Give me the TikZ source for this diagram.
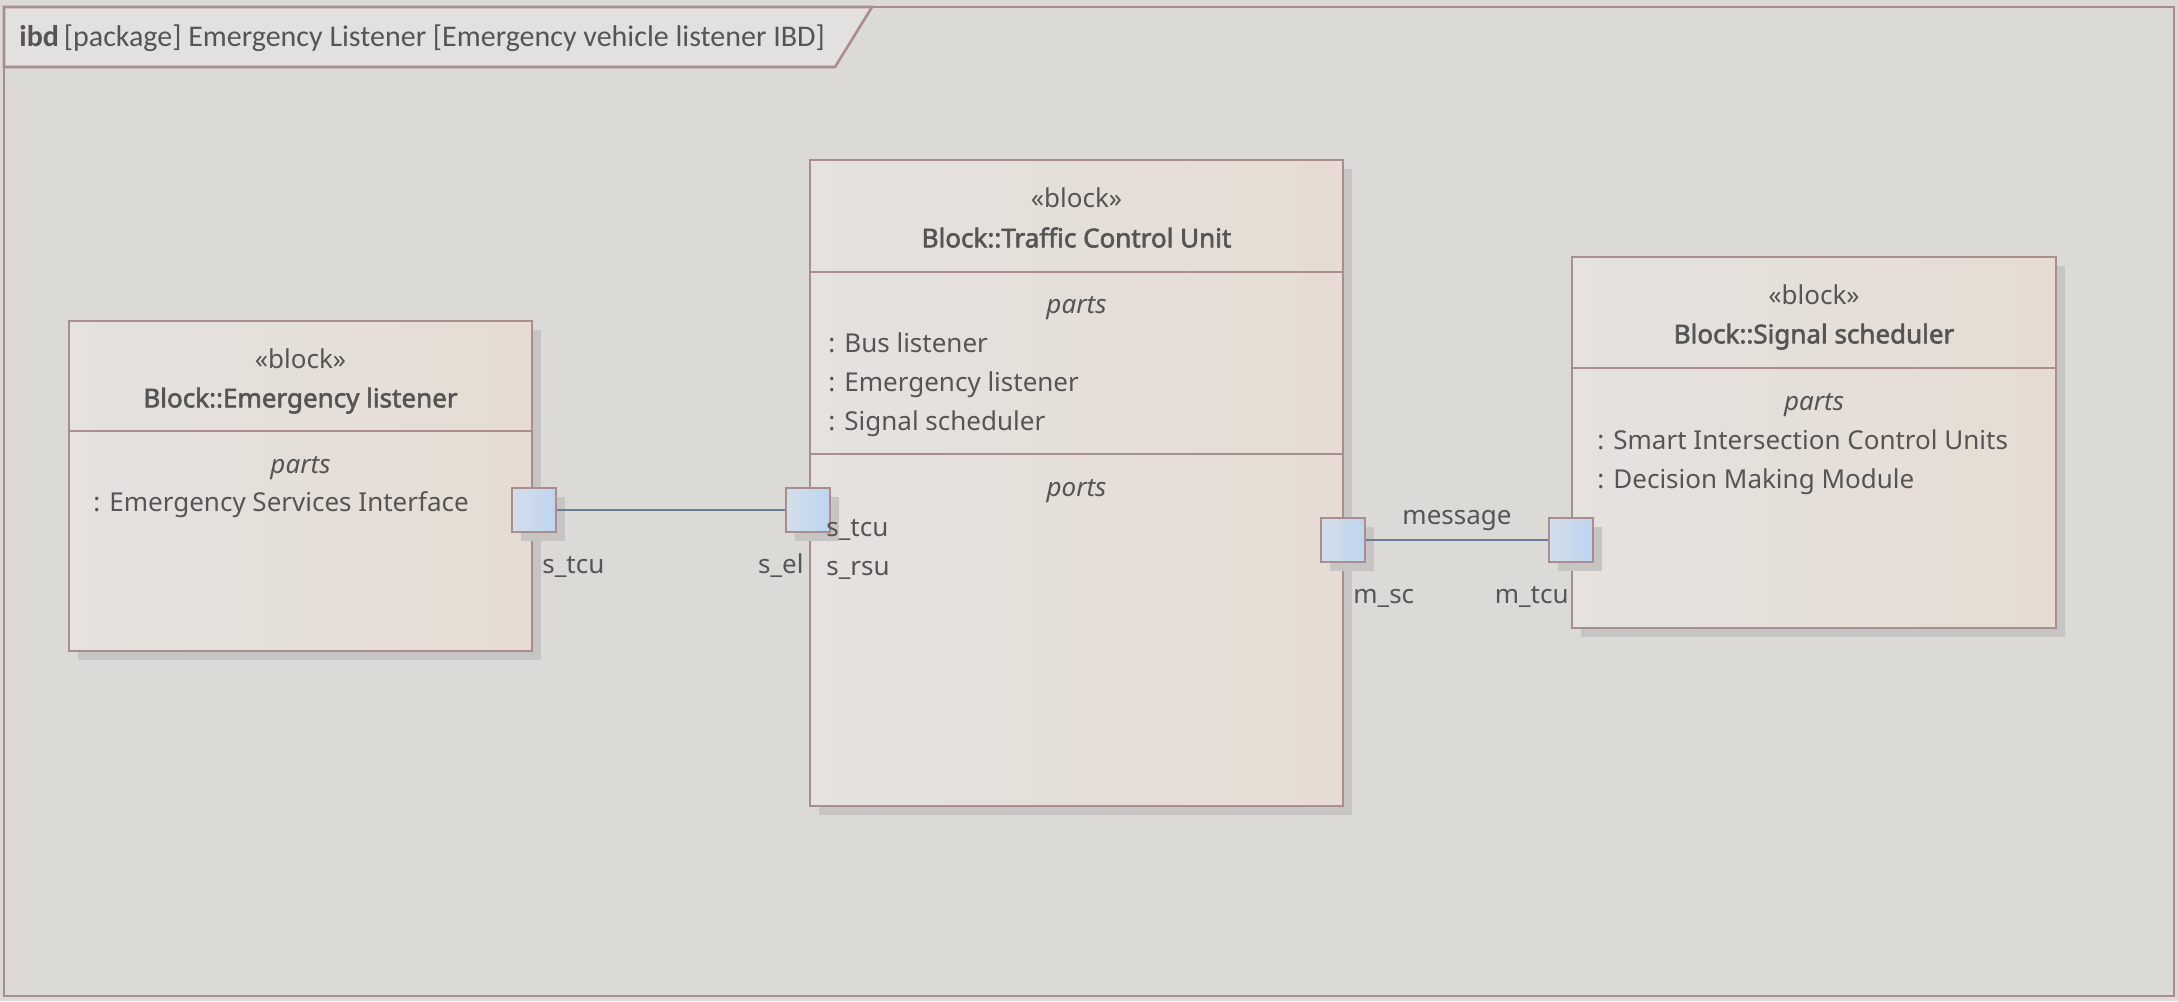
\documentclass[tikz,border=0pt]{standalone}
\usepackage{fontspec}
\setmainfont{Noto Sans}[AutoFakeBold=2.2]
\newfontfamily\tabfont{Carlito}
\usetikzlibrary{positioning, fit, shadows}

\definecolor{sheet}{HTML}{DCDAD6}
\definecolor{tabfill}{HTML}{E3E1DF}
\definecolor{frameline}{HTML}{A98D8F}
\definecolor{blockleft}{HTML}{E5E2DF}
\definecolor{blockright}{HTML}{E6DCD3}
\definecolor{portleft}{HTML}{D5DEE9}
\definecolor{portright}{HTML}{BDD4F0}
\definecolor{wire}{HTML}{6C7A99}
\definecolor{ink}{HTML}{555555}
\definecolor{dropgray}{HTML}{C7C5C3}

\tikzset{
	frame/.style={draw=frameline, line width=1.3pt},
	block/.style={draw=frameline, line width=1pt, inner sep=0pt, left color=blockleft, right color=blockright,
		drop shadow={shadow xshift=4.5pt, shadow yshift=-4.5pt, fill=dropgray, opacity=1}},
	divider/.style={draw=frameline, line width=1pt},
	port/.style={draw=frameline, line width=1pt, minimum size=22pt, inner sep=0pt, left color=portleft, right color=portright,
		drop shadow={shadow xshift=4.5pt, shadow yshift=-4.5pt, fill=dropgray, opacity=1}},
	connector/.style={draw=wire, line width=0.9pt},
	stereo/.style={anchor=mid},
	blockname/.style={anchor=mid, font=\bfseries\fontsize{13}{15}\selectfont},
	compartment/.style={anchor=mid, font=\itshape\fontsize{13}{15}\selectfont},
	entry/.style={anchor=mid west, inner sep=0pt},
	portname/.style={anchor=mid west, inner sep=0pt},
}

\begin{document}
\begin{tikzpicture}[x=0.5pt, y=-0.5pt, font=\fontsize{13}{15}\selectfont, text=ink]
	\useasboundingbox[fill=sheet] (0,0) rectangle (2178,1001);
	\draw[frame] (4,7) rectangle (2174,996);
	\draw[frame, fill=tabfill] (4,7) -- (872,7) -- (835,67) -- (4,67) -- cycle;
	\node[anchor=mid west, inner sep=0pt, font=\tabfont\fontsize{15}{17}\selectfont] (title) at (19,41) {\textbf{ibd}\,[package] Emergency Listener [Emergency vehicle listener IBD]};

	% Emergency listener
	\node[block, fit={(69,321) (532,651)}] (el) {};
	\draw[divider] (69,431) -- (532,431);
	\node[stereo] (elstereo) at (300.5,363) {«block»};
	\node[blockname] (elname) at (300.5,402) {Block::Emergency listener};
	\node[compartment] (elparts) at (300.5,468) {parts};
	\node[entry] (elp1) at (93,506) {: Emergency Services Interface};

	% Traffic Control Unit
	\node[block, fit={(810,160) (1343,806)}] (tcu) {};
	\draw[divider] (810,272) -- (1343,272);
	\draw[divider] (810,454) -- (1343,454);
	\node[stereo] (tcustereo) at (1076.5,202) {«block»};
	\node[blockname] (tcuname) at (1076.5,242) {Block::Traffic Control Unit};
	\node[compartment] (tcuparts) at (1076.5,308) {parts};
	\node[entry] (tcup1) at (828,347) {: Bus listener};
	\node[entry] (tcup2) at (828,386) {: Emergency listener};
	\node[entry] (tcup3) at (828,425) {: Signal scheduler};
	\node[compartment] (tcuports) at (1076.5,491) {ports};

	% Signal scheduler
	\node[block, fit={(1572,257) (2056,628)}] (ss) {};
	\draw[divider] (1572,368) -- (2056,368);
	\node[stereo] (ssstereo) at (1814,299) {«block»};
	\node[blockname] (ssname) at (1814,338) {Block::Signal scheduler};
	\node[compartment] (ssparts) at (1814,405) {parts};
	\node[entry] (ssp1) at (1597,444) {: Smart Intersection Control Units};
	\node[entry] (ssp2) at (1597,483) {: Decision Making Module};

	% ports
	\node[port] (stcu) at (534,510) {};
	\node[port] (sel) at (808,510) {};
	\node[port] (msc) at (1343,540) {};
	\node[port] (mtcu) at (1571,540) {};
	\node[portname] (tcuport1) at (826,531) {s\_tcu};
	\node[portname] (tcuport2) at (826,570) {s\_rsu};
	\node[portname] (stculabel) at (542,568) {s\_tcu};
	\node[portname, anchor=mid east] (sellabel) at (804,568) {s\_el};
	\node[portname] (msclabel) at (1353,598) {m\_sc};
	\node[portname, anchor=mid east] (mtculabel) at (1569,598) {m\_tcu};

	\draw[connector] (stcu) -- (sel);
	\draw[connector] (msc) -- node[above, inner sep=4pt] {message} (mtcu);
\end{tikzpicture}
\end{document}
